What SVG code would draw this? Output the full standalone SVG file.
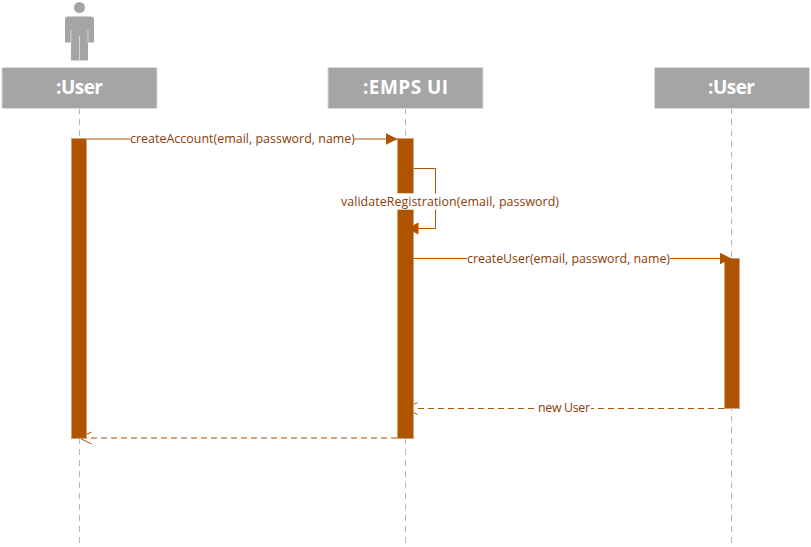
<svg xmlns="http://www.w3.org/2000/svg" width="811" height="547" viewBox="0 0 811 547">
<style>
.head{fill:#a5a5a5;stroke:#dbdbdb;stroke-width:1}
.title{font-family:"Open Sans","Noto Sans","Liberation Sans",sans-serif;font-size:19px;font-weight:700;fill:#fff;text-anchor:middle}
.life{stroke:#b8b8b8;stroke-width:1;stroke-dasharray:6 5;fill:none}
.act{fill:#ae5300;stroke:#d2a37a;stroke-width:1}
.msg{stroke:#ae5300;stroke-width:1;fill:none}
.ret{stroke:#ae5300;stroke-width:1;stroke-dasharray:6 4;fill:none}
.lab{font-family:"Open Sans","Noto Sans","Liberation Sans",sans-serif;font-size:12.400px;fill:#8a3c06;text-anchor:middle}
.bg{fill:#fff}
</style>
<defs>
<marker id="solid" markerUnits="userSpaceOnUse" markerWidth="14" markerHeight="14" refX="12" refY="7" orient="auto"><path d="M0 1 L12 7 L0 13 Z" fill="#ae5300"/></marker>
<marker id="open" markerUnits="userSpaceOnUse" markerWidth="16" markerHeight="16" refX="14" refY="8" orient="auto"><path d="M2 2 L14 8 L2 14" fill="none" stroke="#ae5300" stroke-width="1"/></marker>
</defs>
<g id="lifelines">
<path class="life" d="M79.500 108V544"/>
<path class="life" d="M405.500 108V544"/>
<path class="life" d="M731.500 108V544"/>
</g>
<g id="actor-icon">
<circle cx="79.500" cy="7.500" r="5.500" fill="#a5a5a5"/>
<path d="M68 16.500h23q3 0 3 3V42.500H88V60.500H71V42.500H65V19.500q0-3 3-3Z" fill="#a5a5a5"/>
<path d="M79.500 36V60.500M71 30V42.500M88 30V42.500" stroke="#d4d4d4" stroke-width="1" fill="none"/>
</g>
<g id="node-user1">
<rect class="head" x="2" y="67.500" width="155" height="41"/>
<text class="title" x="79.500" y="94" textLength="47">:User</text>
</g>
<g id="node-emps">
<rect class="head" x="328" y="67.500" width="155" height="41"/>
<text class="title" x="405.500" y="94" textLength="85">:EMPS UI</text>
</g>
<g id="node-user2">
<rect class="head" x="654.500" y="67.500" width="155" height="41"/>
<text class="title" x="731.500" y="94" textLength="47">:User</text>
</g>
<g id="returns">
<path class="ret" d="M724 408.500H405.500" marker-end="url(#open)"/>
<path class="ret" d="M397 438H79.500" marker-end="url(#open)"/>
</g>
<g id="activations">
<rect class="act" x="71.500" y="138.500" width="15" height="300"/>
<rect class="act" x="397.500" y="138.500" width="16" height="55"/>
<rect class="act" x="397.500" y="209.500" width="16" height="229"/>
<rect class="act" x="724.500" y="258.500" width="15" height="150"/>
</g>
<g id="connectors">
<path class="msg" d="M87 139H397.500" marker-end="url(#solid)"/>
<path class="msg" d="M413.500 168.500H435.500V228.500H406.500" marker-end="url(#solid)"/>
<path class="msg" d="M413.500 258.500H731.500" marker-end="url(#solid)"/>
</g>
<g id="labels">
<rect class="bg" x="130" y="131" width="225" height="16"/>
<text class="lab" x="242.500" y="143" textLength="225">createAccount(email, password, name)</text>
<rect class="bg" x="341" y="193.500" width="218" height="16"/>
<text class="lab" x="450" y="205.500" textLength="218">validateRegistration(email, password)</text>
<rect class="bg" x="467" y="251" width="203" height="16"/>
<text class="lab" x="568.500" y="263" textLength="203">createUser(email, password, name)</text>
<rect class="bg" x="535" y="400" width="56" height="16"/>
<text class="lab" x="564" y="412" textLength="52">new User</text>
</g>
</svg>
